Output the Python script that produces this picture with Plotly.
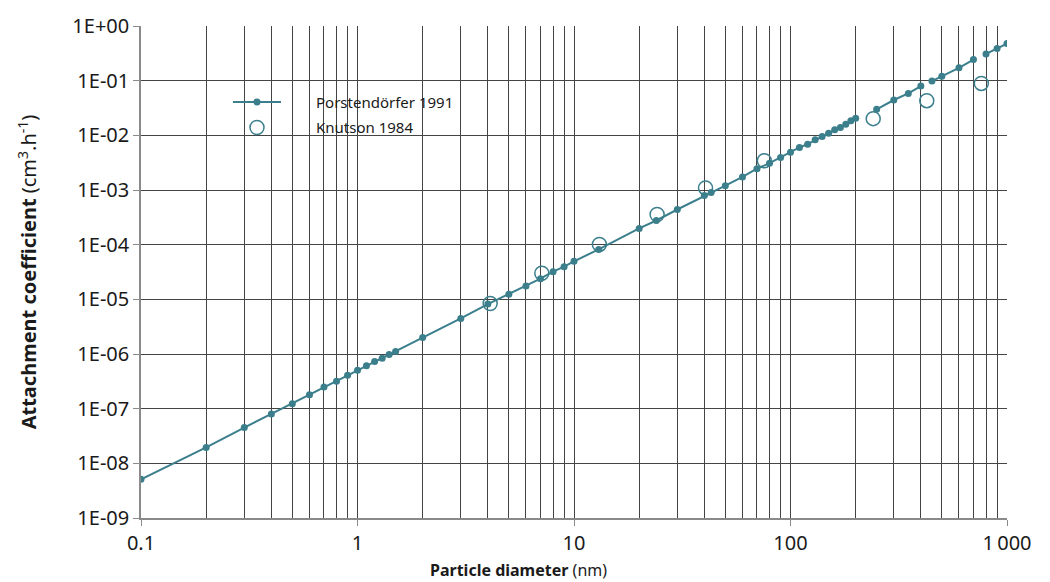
import plotly.graph_objects as go

# Porstendörfer 1991 (None = gap in the drawn line)
porst_d = [0.1, 0.2, 0.3, 0.4, 0.5, 0.6, 0.7, 0.8, 0.9, 1, 1.1, 1.2, 1.3, 1.4, 1.5,
           2, 3, 4, 5, 6, 7, 8, 9, 10, 13, 20, 24, 30, 40, 43, 50, 60, 70, 80, 90,
           100, 110, 120, 130, 140, 150, 160, 170, 180, 190, 200, None,
           250, 300, 350, 400, None, 450, 500, 600, 700, None, 800, 900, 1000]
porst_k = [5.1e-9, 1.95e-8, 4.5e-8, 8.0e-8, 1.23e-7, 1.8e-7, 2.48e-7, 3.18e-7, 4.09e-7,
           5.05e-7, 6.07e-7, 7.27e-7, 8.35e-7, 9.75e-7, 1.11e-6,
           2.01e-6, 4.47e-6, 8.18e-6, 1.24e-5, 1.76e-5, 2.39e-5, 3.21e-5, 3.96e-5, 4.96e-5,
           8.2e-5, 1.98e-4, 2.77e-4, 4.4e-4, 7.9e-4, 8.97e-4, 1.2e-3, 1.73e-3, 2.45e-3,
           3.1e-3, 3.94e-3, 4.92e-3, 6.0e-3, 6.89e-3, 8.28e-3, 9.5e-3, 1.09e-2, 1.26e-2,
           1.39e-2, 1.59e-2, 1.84e-2, 2.05e-2, None,
           2.99e-2, 4.43e-2, 5.85e-2, 7.97e-2, None, 9.84e-2, 0.121, 0.172, 0.243, None,
           0.309, 0.386, 0.476]

# Knutson 1984
knut_d = [4.1, 7.1, 13.1, 24.2, 40.5, 75.7, 241, 426, 761]
knut_k = [8.4e-6, 3.0e-5, 1.01e-4, 3.56e-4, 1.09e-3, 3.43e-3, 2.02e-2, 4.3e-2, 8.9e-2]

x_tickvals = [0.1, 1, 10, 100, 1000]
x_ticktext = ["0.1", "1", "10", "100", "1\u2009000"]
y_tickvals = [1, 1e-1, 1e-2, 1e-3, 1e-4, 1e-5, 1e-6, 1e-7, 1e-8, 1e-9]
y_ticktext = ["1E+00", "1E-01", "1E-02", "1E-03", "1E-04", "1E-05", "1E-06", "1E-07",
              "1E-08", "1E-09"]
x_minor = [m * 10 ** e for e in (-1, 0, 1, 2) for m in range(2, 10)]

TEAL = "#3b7f8c"
FONT = "Noto Sans"
GRID = "#444444"
PAD = "\u2003\u2003"

fig = go.Figure()
fig.add_trace(go.Scatter(
    x=porst_d, y=porst_k, mode="lines+markers", name=PAD + "Porstendörfer 1991",
    legendgroup="p",
    line=dict(color=TEAL, width=2), marker=dict(color=TEAL, size=7),
    connectgaps=False))
fig.add_trace(go.Scatter(
    x=knut_d, y=knut_k, mode="markers", name=PAD + "Knutson 1984",
    legendgroup="k",
    marker=dict(symbol="circle-open", color=TEAL, size=14, line=dict(width=1.5, color=TEAL))))

W, H = 1050, 582
L, R, T, B = 141, 43, 24, 64
pw, ph = W - L - R, H - T - B

def px(xpix):
    return (xpix - L) / pw

def py(ypix):
    return (H - B - ypix) / ph

fig.add_shape(type="rect", xref="paper", yref="paper",
              x0=px(222), x1=px(466), y0=py(143), y1=py(80),
              fillcolor="rgba(255,255,255,0.82)", line=dict(width=0), layer="between")

fig.update_layout(
    width=W, height=H,
    margin=dict(l=L, r=R, t=T, b=B),
    paper_bgcolor="white", plot_bgcolor="white",
    font=dict(family=FONT, color="#1a1a1a", size=16),
    showlegend=True,
    legend=dict(x=px(228), y=py(84), xanchor="left", yanchor="top",
                bgcolor="rgba(0,0,0,0)", font=dict(size=15, color="#1a1a1a"),
                itemwidth=48, tracegroupgap=3),
    xaxis=dict(type="log", range=[-1, 3], tickvals=x_tickvals, ticktext=x_ticktext,
               showgrid=True, gridcolor=GRID, gridwidth=1,
               minor=dict(tickvals=x_minor, showgrid=True, gridcolor=GRID, gridwidth=1, ticks=""),
               showline=True, linecolor="#8a8a8a", linewidth=1.5, mirror=False,
               ticks="outside", ticklen=6, tickcolor="#8a8a8a",
               tickfont=dict(size=20), zeroline=False),
    yaxis=dict(type="log", range=[-9, 0], tickvals=y_tickvals, ticktext=y_ticktext,
               showgrid=True, gridcolor=GRID, gridwidth=1,
               showline=True, linecolor="#8a8a8a", linewidth=1.5,
               ticks="outside", ticklen=6, tickcolor="#8a8a8a",
               tickfont=dict(size=20), zeroline=False,
               title=dict(text="<b>Attachment coefficient</b> (cm<sup>3</sup>.h<sup>-1</sup>)",
                          font=dict(size=20), standoff=30)),
)

fig.add_annotation(xref="paper", yref="paper", x=px(518), y=py(570),
                   text="<b>Particle diameter</b> (nm)", showarrow=False,
                   font=dict(size=16, color="#1a1a1a"), xanchor="center", yanchor="middle")
fig.add_annotation(xref="paper", yref="paper", x=px(780), y=py(577),
                   text="<span style='color:#111'>•</span>   Figure 3.16", showarrow=False,
                   font=dict(size=16, color="#777"), xanchor="left", yanchor="top")

fig.write_html("out.html")
